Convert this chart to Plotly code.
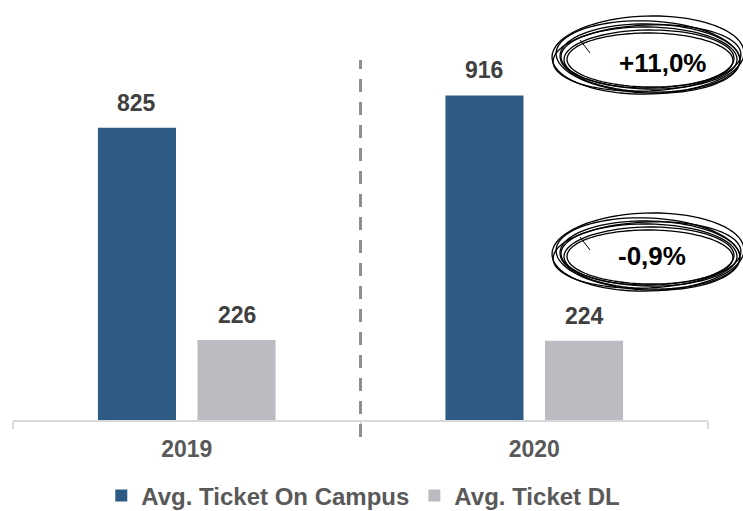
import math
import plotly.graph_objects as go

years = ["2019", "2020"]
on_campus = [825, 916]
dl = [226, 224]
series_names = ["Avg. Ticket On Campus", "Avg. Ticket DL"]
series_colors = ["#2D5B84", "#BBBCC1"]
changes = ["+11,0%", "-0,9%"]

W, H = 743, 511
ML, MR, MT, MB = 13, 35, 40, 91
PW, PH = W - ML - MR, H - MT - MB
YMAX = 1072.5
BARGAP, BARGROUPGAP = 0.427, 0.216
FONT = "Liberation Sans, Arial, sans-serif"

fig = go.Figure()
for name, vals, col in zip(series_names, [on_campus, dl], series_colors):
    fig.add_trace(go.Bar(x=years, y=vals, name=f"<b>{name}</b>", marker=dict(color=col, line=dict(width=0)),
                         hoverinfo="skip"))

# data labels, positioned at each bar centre
slot = (1 - BARGAP) / 2
for j, vals in enumerate([on_campus, dl]):
    off = (j - 0.5) * slot
    for i, v in enumerate(vals):
        fig.add_annotation(x=i + off, y=v, xref="x", yref="y", text=f"<b>{v}</b>",
                           showarrow=False, yanchor="middle", yshift=25,
                           font=dict(family=FONT, size=23, color="#404040"))

def px2paper(px, py):
    return (px - ML) / PW, (MT + PH - py) / PH

def ellipse_path(cx, cy, rx, ry, rot, start=0.0, sweep=2 * math.pi, n=90):
    pts = []
    c, s = math.cos(math.radians(rot)), math.sin(math.radians(rot))
    for k in range(n + 1):
        t = start + sweep * k / n
        ex, ey = rx * math.cos(t), ry * math.sin(t)
        x, y = cx + ex * c - ey * s, cy + ex * s + ey * c
        pts.append(px2paper(x, y))
    return "M" + " L".join(f"{a:.5f},{b:.5f}" for a, b in pts)

loops = [(0, -2, 96, 39, -1.5, 0.3), (2, 1, 90, 34, 1.5, 1.0), (1, 2, 85, 29, -0.5, 2.0),
         (0, 0, 92, 36, 2.5, 3.5), (2, 3, 83, 27, 0.5, 4.5), (-1, 1, 94, 33, -2.5, 5.2),
         (1, 1, 88, 31, 1.0, 2.8)]
for centre, txt, tc in [((648, 57), changes[0], (662, 63)), ((648, 254), changes[1], (652, 256))]:
    for dx, dy, rx, ry, rot, st in loops:
        fig.add_shape(type="path", xref="paper", yref="paper",
                      path=ellipse_path(centre[0] + dx, centre[1] + dy, rx, ry, rot, st, 2 * math.pi * 1.05),
                      line=dict(color="#000000", width=1.3))
    a0, b0 = px2paper(centre[0] - 68, centre[1] - 17)
    a1, b1 = px2paper(centre[0] - 58, centre[1] - 4)
    fig.add_shape(type="line", xref="paper", yref="paper", x0=a0, y0=b0, x1=a1, y1=b1,
                  line=dict(color="#000000", width=1))
    ax, ay = px2paper(*tc)
    fig.add_annotation(x=ax, y=ay, xref="paper", yref="paper", text=f"<b>{txt}</b>", showarrow=False,
                       xanchor="center", yanchor="middle",
                       font=dict(family=FONT, size=26, color="#000000"))

# dashed separator between years
fig.add_shape(type="line", xref="x", yref="paper", x0=0.5, x1=0.5,
              y0=(MT + PH - 437) / PH, y1=(MT + PH - 60) / PH,
              line=dict(color="#8F8F8F", width=3, dash="13px,10px"))

fig.update_layout(
    width=W, height=H, margin=dict(l=ML, r=MR, t=MT, b=MB, autoexpand=False),
    paper_bgcolor="white", plot_bgcolor="white",
    barmode="group", bargap=BARGAP, bargroupgap=BARGROUPGAP,
    showlegend=True,
    legend=dict(orientation="h", xanchor="center", x=0.504, yref="paper", y=(MT + PH - 496) / PH,
                yanchor="middle",
                font=dict(family=FONT, size=24, color="#595959"), itemclick=False,
                traceorder="normal"),
    font=dict(family=FONT),
)
fig.update_xaxes(type="category", showline=True, linecolor="#D9D9D9", linewidth=2,
                 ticks="outside", tickson="boundaries", ticklen=7, tickcolor="#D9D9D9", tickwidth=2,
                 tickfont=dict(family=FONT, size=23, color="#595959"), showgrid=False,
                 ticklabelstandoff=7, tickprefix="<b>", ticksuffix="</b>")
fig.update_yaxes(visible=False, range=[0, YMAX], showgrid=False)

fig.write_html("out.html", config={"displayModeBar": False},
               post_script="document.body.style.margin='0';document.body.style.padding='0';")
